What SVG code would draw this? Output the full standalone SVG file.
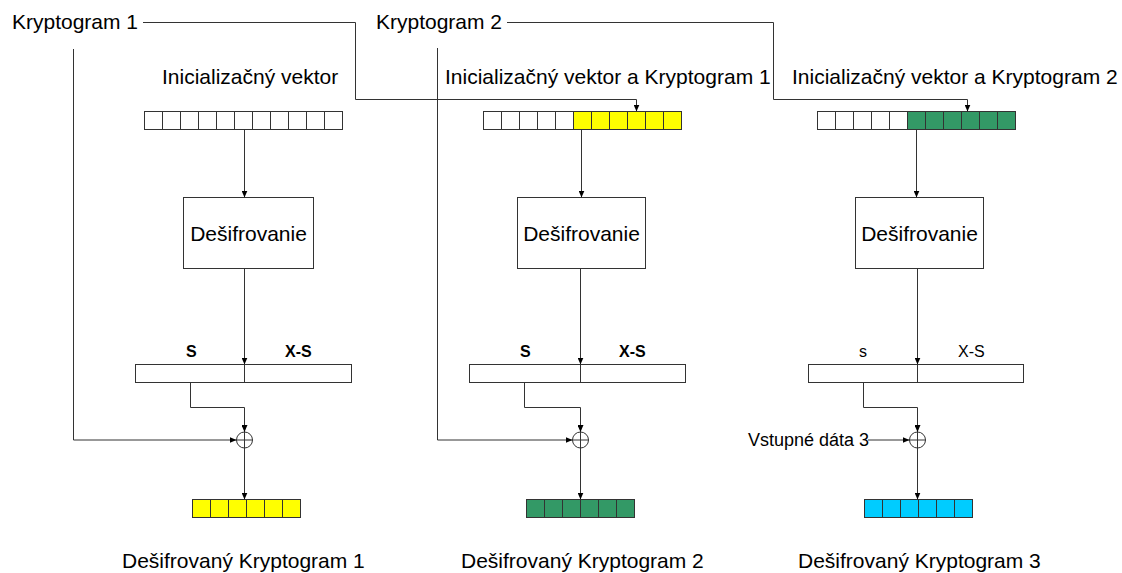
<svg xmlns="http://www.w3.org/2000/svg" width="1122" height="573" viewBox="0 0 1122 573">
<style>
text{font-family:"Liberation Sans",Arial,sans-serif;fill:#000}
.t{font-size:21px}
.sm{font-size:18px}
.lb{font-size:16px;font-weight:bold}
.ln{font-size:16px}
.w{fill:#fff;stroke:#333;stroke-width:1}
.y{fill:#ffff00;stroke:#333;stroke-width:1}
.g{fill:#339966;stroke:#333;stroke-width:1}
.c{fill:#00ccff;stroke:#333;stroke-width:1}
.l{fill:none;stroke:#333;stroke-width:1}
.a{fill:none;stroke:#333;stroke-width:1;marker-end:url(#ar)}
</style>
<defs>
<marker id="ar" markerWidth="7" markerHeight="6" refX="7" refY="3" orient="auto" markerUnits="userSpaceOnUse"><path d="M0,0 L7,3 L0,6 z" fill="#000"/></marker>
</defs>
<rect width="1122" height="573" fill="#fff"/>

<g id="labels">
<text class="t" x="12" y="29">Kryptogram 1</text>
<text class="t" x="376" y="29">Kryptogram 2</text>
<text class="t" x="162" y="84">Inicializačný vektor</text>
<text class="t" x="445" y="84">Inicializačný vektor a Kryptogram 1</text>
<text class="t" x="792" y="84">Inicializačný vektor a Kryptogram 2</text>
<text class="t" x="122" y="568">Dešifrovaný Kryptogram 1</text>
<text class="t" x="461" y="568">Dešifrovaný Kryptogram 2</text>
<text class="t" x="798" y="568">Dešifrovaný Kryptogram 3</text>
</g>

<g id="iv1">
<rect class="w" x="144.5" y="111.5" width="18" height="18"/><rect class="w" x="162.5" y="111.5" width="18" height="18"/><rect class="w" x="180.5" y="111.5" width="18" height="18"/><rect class="w" x="198.5" y="111.5" width="18" height="18"/><rect class="w" x="216.5" y="111.5" width="18" height="18"/><rect class="w" x="234.5" y="111.5" width="18" height="18"/><rect class="w" x="252.5" y="111.5" width="18" height="18"/><rect class="w" x="270.5" y="111.5" width="18" height="18"/><rect class="w" x="288.5" y="111.5" width="18" height="18"/><rect class="w" x="306.5" y="111.5" width="18" height="18"/><rect class="w" x="324.5" y="111.5" width="18" height="18"/>
</g>
<g id="iv2">
<rect class="w" x="483.5" y="111.5" width="18" height="18"/><rect class="w" x="501.5" y="111.5" width="18" height="18"/><rect class="w" x="519.5" y="111.5" width="18" height="18"/><rect class="w" x="537.5" y="111.5" width="18" height="18"/><rect class="w" x="555.5" y="111.5" width="18" height="18"/><rect class="y" x="573.5" y="111.5" width="18" height="18"/><rect class="y" x="591.5" y="111.5" width="18" height="18"/><rect class="y" x="609.5" y="111.5" width="18" height="18"/><rect class="y" x="627.5" y="111.5" width="18" height="18"/><rect class="y" x="645.5" y="111.5" width="18" height="18"/><rect class="y" x="663.5" y="111.5" width="18" height="18"/>
</g>
<g id="iv3">
<rect class="w" x="817.5" y="111.5" width="18" height="18"/><rect class="w" x="835.5" y="111.5" width="18" height="18"/><rect class="w" x="853.5" y="111.5" width="18" height="18"/><rect class="w" x="871.5" y="111.5" width="18" height="18"/><rect class="w" x="889.5" y="111.5" width="18" height="18"/><rect class="g" x="907.5" y="111.5" width="18" height="18"/><rect class="g" x="925.5" y="111.5" width="18" height="18"/><rect class="g" x="943.5" y="111.5" width="18" height="18"/><rect class="g" x="961.5" y="111.5" width="18" height="18"/><rect class="g" x="979.5" y="111.5" width="18" height="18"/><rect class="g" x="997.5" y="111.5" width="18" height="18"/>
</g>

<g id="dec1"><rect class="w" x="183.5" y="197.5" width="130" height="71"/><text class="t" x="248.5" y="241" text-anchor="middle">Dešifrovanie</text></g>
<g id="dec2"><rect class="w" x="517.5" y="197.5" width="128" height="71"/><text class="t" x="581.5" y="241" text-anchor="middle">Dešifrovanie</text></g>
<g id="dec3"><rect class="w" x="855.5" y="197.5" width="128" height="71"/><text class="t" x="919.5" y="241" text-anchor="middle">Dešifrovanie</text></g>

<g id="split1"><rect class="w" x="135.5" y="364.5" width="216" height="18"/><line class="l" x1="244.5" y1="364.5" x2="244.5" y2="382.5"/><text class="lb" x="186" y="357">S</text><text class="lb" x="285" y="357">X-S</text></g>
<g id="split2"><rect class="w" x="469.5" y="364.5" width="216" height="18"/><line class="l" x1="580.5" y1="364.5" x2="580.5" y2="382.5"/><text class="lb" x="520" y="357">S</text><text class="lb" x="619" y="357">X-S</text></g>
<g id="split3"><rect class="w" x="808.5" y="364.5" width="215" height="18"/><line class="l" x1="917.5" y1="364.5" x2="917.5" y2="382.5"/><text class="ln" x="859" y="357">s</text><text class="ln" x="958" y="357">X-S</text></g>

<g id="xor1"><circle class="w" cx="244.5" cy="440" r="8"/><path class="l" d="M236.5,440 H252.5 M244.5,432 V448"/></g>
<g id="xor2"><circle class="w" cx="580.5" cy="440" r="8"/><path class="l" d="M572.5,440 H588.5 M580.5,432 V448"/></g>
<g id="xor3"><circle class="w" cx="917.5" cy="440" r="8"/><path class="l" d="M909.5,440 H925.5 M917.5,432 V448"/></g>

<g id="in3"><text class="sm" x="748" y="446">Vstupné dáta 3</text></g>

<g id="out1">
<rect class="y" x="192.5" y="499.5" width="18" height="18"/><rect class="y" x="210.5" y="499.5" width="18" height="18"/><rect class="y" x="228.5" y="499.5" width="18" height="18"/><rect class="y" x="246.5" y="499.5" width="18" height="18"/><rect class="y" x="264.5" y="499.5" width="18" height="18"/><rect class="y" x="282.5" y="499.5" width="18" height="18"/>
</g>
<g id="out2">
<rect class="g" x="526.5" y="499.5" width="18" height="18"/><rect class="g" x="544.5" y="499.5" width="18" height="18"/><rect class="g" x="562.5" y="499.5" width="18" height="18"/><rect class="g" x="580.5" y="499.5" width="18" height="18"/><rect class="g" x="598.5" y="499.5" width="18" height="18"/><rect class="g" x="616.5" y="499.5" width="18" height="18"/>
</g>
<g id="out3">
<rect class="c" x="864.5" y="499.5" width="18" height="18"/><rect class="c" x="882.5" y="499.5" width="18" height="18"/><rect class="c" x="900.5" y="499.5" width="18" height="18"/><rect class="c" x="918.5" y="499.5" width="18" height="18"/><rect class="c" x="936.5" y="499.5" width="18" height="18"/><rect class="c" x="954.5" y="499.5" width="18" height="18"/>
</g>

<g id="connectors">
<path class="a" d="M143,22.5 H355.5 V99.5 H636.5 V111.5"/>
<path class="a" d="M507,22.5 H773.5 V99.5 H967.5 V111.5"/>
<path class="a" d="M73.5,49 V440 H236.5"/>
<path class="a" d="M437.5,48 V440 H572.5"/>
<path class="a" d="M868,440 H909.5"/>

<path class="a" d="M244.5,129.5 V197.5"/>
<path class="a" d="M244.5,268.5 V364.5"/>
<path class="a" d="M190.5,382.5 V407.5 H244.5 V432"/>
<path class="a" d="M244.5,448 V499.5"/>

<path class="a" d="M581.5,129.5 V197.5"/>
<path class="a" d="M580.5,268.5 V364.5"/>
<path class="a" d="M524.5,382.5 V407.5 H580.5 V432"/>
<path class="a" d="M580.5,448 V499.5"/>

<path class="a" d="M916.5,129.5 V197.5"/>
<path class="a" d="M917.5,268.5 V364.5"/>
<path class="a" d="M863.5,382.5 V407.5 H917.5 V432"/>
<path class="a" d="M917.5,448 V499.5"/>
</g>
</svg>
